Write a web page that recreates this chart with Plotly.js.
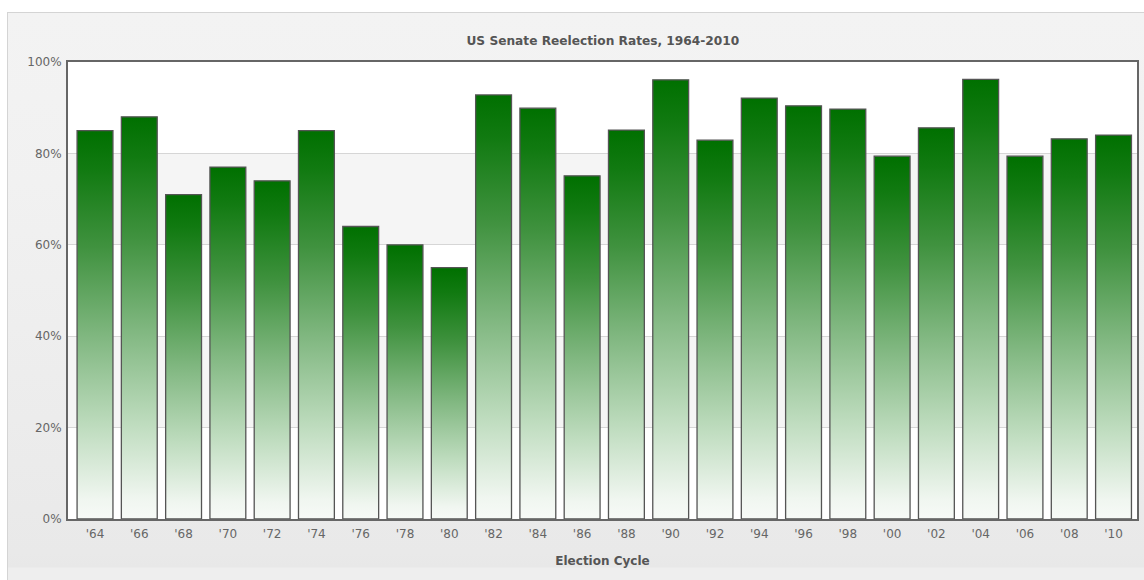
<!DOCTYPE html>
<html>
<head>
<meta charset="utf-8">
<script src="https://cdn.plot.ly/plotly-3.0.1.min.js"></script>
<style>
  html, body { margin: 0; padding: 0; background: #ffffff; }
  #wrap { position: relative; width: 1144px; height: 580px; overflow: hidden; }
  #bg {
    position: absolute; left: 7px; top: 12px; width: 1136px; height: 580px;
    border-left: 1px solid #d4d4d4; border-top: 1px solid #d4d4d4;
    background: linear-gradient(to bottom, #f3f3f3 0px, #f1f1f1 170px, #ededed 360px, #e9e9e9 540px, #e8e8e8 554px, #eeeeee 555px, #eeeeee 580px);
  }
  #chart { position: absolute; left: 0; top: 0; width: 1144px; height: 580px; }
</style>
</head>
<body>
<div id="wrap">
  <div id="bg"></div>
  <div id="chart"></div>
</div>
<script>
// ---- data ----
const cycleLabels = ["'64","'66","'68","'70","'72","'74","'76","'78","'80","'82","'84","'86",
                     "'88","'90","'92","'94","'96","'98","'00","'02","'04","'06","'08","'10"];
const reelectionRates = [85, 88, 71, 77, 74, 85, 64, 60, 55, 92.8, 89.9, 75.1,
                         85.1, 96.1, 82.9, 92.1, 90.4, 89.7, 79.4, 85.6, 96.2, 79.4, 83.2, 84.0];
const yTickVals = [0, 20, 40, 60, 80, 100];
const yTickText = ["0%", "20%", "40%", "60%", "80%", "100%"];

// ---- style ----
const barWidth = 0.81;
const gradient = [
  [0.00, '#f7faf7'],
  [0.05, '#f0f6f0'],
  [0.23, '#c0ddc0'],
  [0.47, '#80b780'],
  [0.70, '#40923f'],
  [0.90, '#117a11'],
  [1.00, '#007000']
];

const traces = reelectionRates.map(function (v, i) {
  const x0 = i - barWidth / 2, x1 = i + barWidth / 2;
  return {
    type: 'scatter',
    mode: 'lines',
    x: [x0, x0, x1, x1, x0],
    y: [0, v, v, 0, 0],
    fill: 'toself',
    fillgradient: { type: 'vertical', colorscale: gradient },
    line: { color: '#555555', width: 1.3 },
    hoverinfo: 'text',
    text: cycleLabels[i] + ': ' + v + '%',
    showlegend: false
  };
});

const layout = {
  width: 1144,
  height: 580,
  paper_bgcolor: 'rgba(0,0,0,0)',
  plot_bgcolor: '#ffffff',
  margin: { l: 68, r: 7, t: 62, b: 61 },
  font: { family: 'DejaVu Sans, Verdana, sans-serif', size: 12, color: '#666666' },
  title: {
    text: 'US Senate Reelection Rates, 1964-2010',
    font: { family: 'DejaVu Sans, Verdana, sans-serif', size: 12.2, color: '#555555', weight: 'bold' },
    x: 0.527, xanchor: 'center', y: 0.929, yanchor: 'middle'
  },
  xaxis: {
    range: [-0.61, 23.53],
    tickmode: 'array',
    tickvals: cycleLabels.map(function (_, i) { return i; }),
    ticktext: cycleLabels,
    showgrid: false,
    zeroline: false,
    showline: true, mirror: true, linecolor: '#666666', linewidth: 2,
    ticks: '',
    ticklabelstandoff: 3,
    tickfont: { size: 12, color: '#666666' },
    title: { text: 'Election Cycle', font: { size: 12, color: '#555555', weight: 'bold' }, standoff: 16 },
    fixedrange: true
  },
  yaxis: {
    range: [0, 100],
    tickmode: 'array',
    tickvals: yTickVals,
    ticktext: yTickText,
    showgrid: true, gridcolor: '#d6d6d6', gridwidth: 1,
    zeroline: false,
    showline: true, mirror: true, linecolor: '#666666', linewidth: 2,
    ticks: '',
    ticklabelstandoff: 2,
    tickfont: { size: 12, color: '#666666' },
    fixedrange: true
  },
  shapes: [
    { type: 'rect', xref: 'paper', yref: 'y', x0: 0, x1: 1, y0: 60, y1: 80, fillcolor: '#f5f5f5', line: { width: 0 }, layer: 'below' },
    { type: 'rect', xref: 'paper', yref: 'y', x0: 0, x1: 1, y0: 20, y1: 40, fillcolor: '#f5f5f5', line: { width: 0 }, layer: 'below' }
  ]
};

Plotly.newPlot('chart', traces, layout, { displayModeBar: false, staticPlot: false });
</script>
</body>
</html>
